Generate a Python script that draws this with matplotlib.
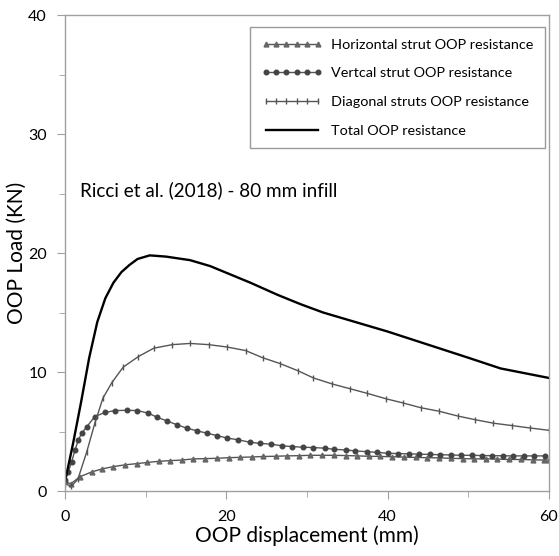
import matplotlib
matplotlib.use("Agg")
import matplotlib.pyplot as plt
from matplotlib.ticker import MultipleLocator

plt.rcParams['font.family'] = ['Lato', 'DejaVu Sans']

# Horizontal strut OOP resistance (triangles)
horiz_x = [0, 0.7, 1.86, 3.3, 4.55, 6.0, 7.45, 8.9, 10.2, 11.7, 13.0, 14.5, 15.9, 17.4, 18.8,
           20.3, 21.7, 23.2, 24.6, 26.1, 27.5, 29.0, 30.4, 31.9, 33.3, 34.8, 36.2, 37.7, 39.1,
           40.6, 42.0, 43.5, 44.9, 46.4, 47.8, 49.3, 50.7, 52.2, 53.6, 55.1, 56.5, 58.0, 59.4, 60]
horiz_y = [0.8, 0.6, 1.2, 1.6, 1.85, 2.05, 2.2, 2.3, 2.4, 2.5, 2.55, 2.6, 2.7, 2.72, 2.75,
           2.8, 2.83, 2.86, 2.9, 2.92, 2.95, 2.97, 3.0, 3.0, 3.0, 2.98, 2.95, 2.92, 2.9,
           2.88, 2.85, 2.82, 2.8, 2.78, 2.75, 2.72, 2.7, 2.7, 2.68, 2.65, 2.65, 2.62, 2.6, 2.6]

# Vertical strut OOP resistance (circles)
vert_x = [0, 0.41, 0.83, 1.24, 1.66, 2.07, 2.7, 3.7, 4.97, 6.2, 7.66, 8.98, 10.35, 11.4, 12.6,
          13.9, 15.1, 16.4, 17.6, 18.8, 20.1, 21.5, 22.9, 24.2, 25.6, 26.9, 28.2, 29.5, 30.8,
          32.2, 33.4, 34.8, 36.0, 37.5, 38.7, 40.0, 41.3, 42.6, 43.9, 45.2, 46.5, 47.8, 49.1,
          50.4, 51.7, 53.0, 54.3, 55.6, 56.9, 58.2, 59.5]
vert_y = [0.93, 1.63, 2.47, 3.45, 4.3, 4.86, 5.4, 6.26, 6.6, 6.76, 6.78, 6.76, 6.54, 6.2, 5.9,
          5.56, 5.28, 5.05, 4.86, 4.66, 4.45, 4.3, 4.1, 4.0, 3.93, 3.8, 3.73, 3.68, 3.65,
          3.6, 3.5, 3.45, 3.37, 3.3, 3.25, 3.17, 3.15, 3.12, 3.1, 3.07, 3.05, 3.03, 3.0,
          3.0, 2.98, 2.97, 2.96, 2.95, 2.95, 2.95, 2.95]

# Diagonal struts OOP resistance
diag_x = [0, 0.8, 1.6, 2.7, 3.7, 4.7, 5.8, 7.2, 9.1, 11.0, 13.3, 15.5, 17.8, 20.1, 22.4, 24.5,
          26.7, 28.9, 30.8, 33.1, 35.3, 37.5, 39.8, 41.9, 44.1, 46.4, 48.7, 50.8, 53.1, 55.4,
          57.6, 60.0]
diag_y = [0.6, 0.4, 1.0, 3.3, 5.7, 7.8, 9.1, 10.4, 11.3, 12.0, 12.3, 12.4, 12.3, 12.1, 11.8, 11.2,
          10.7, 10.1, 9.5, 9.0, 8.6, 8.2, 7.75, 7.4, 7.0, 6.7, 6.3, 6.0, 5.7, 5.5,
          5.3, 5.1]

# Total OOP resistance
total_x = [0, 1, 2, 3, 4, 5, 6, 7, 8, 9, 10.5, 12.5, 15.5, 18, 20.5, 23, 26.3, 29.2, 32, 35,
           40, 45, 50, 54, 57, 60]
total_y = [0.8, 4.0, 7.5, 11.2, 14.2, 16.2, 17.5, 18.4, 19.0, 19.5, 19.8, 19.7, 19.4, 18.9,
           18.2, 17.5, 16.5, 15.7, 15.0, 14.4, 13.4, 12.3, 11.2, 10.3, 9.9, 9.5]

labels = ["Horizontal strut OOP resistance", "Vertcal strut OOP resistance",
          "Diagonal struts OOP resistance", "Total OOP resistance"]

fig = plt.figure(figsize=(5.59, 5.56), dpi=100)
ax = fig.add_axes([0.1163, 0.1169, 0.8657, 0.8561])

grey = '#555555'
ax.plot(horiz_x, horiz_y, color=grey, lw=1.0, marker='^', ms=3.5, mfc='#666666', mec='#666666',
        label=labels[0])
ax.plot(vert_x, vert_y, color=grey, lw=1.0, marker='o', ms=3.3, mfc='#444444', mec='#444444',
        label=labels[1])
ax.plot(diag_x, diag_y, color=grey, lw=1.0, marker='|', ms=5, mew=1.0, mec=grey,
        label=labels[2])
ax.plot(total_x, total_y, color='black', lw=1.7, label=labels[3])

ax.set_xlim(0, 60)
ax.set_ylim(0, 40)
ax.xaxis.set_major_locator(MultipleLocator(20))
ax.xaxis.set_minor_locator(MultipleLocator(10))
ax.yaxis.set_major_locator(MultipleLocator(10))
ax.yaxis.set_minor_locator(MultipleLocator(5))
for s in ax.spines.values():
    s.set_color('#a0a0a0')
    s.set_linewidth(1.0)
ax.tick_params(which='major', length=6, color='#a0a0a0', labelsize=11.5, pad=7)
ax.tick_params(which='minor', length=4, color='#a0a0a0')
ax.tick_params(axis='x', pad=8)

ax.set_xlabel("OOP displacement (mm)", fontsize=15, labelpad=1)
ax.set_ylabel("OOP Load (KN)", fontsize=15, labelpad=1)

ax.text(0.03, 0.632, "Ricci et al. (2018) - 80 mm infill", transform=ax.transAxes,
        fontsize=13.6, ha='left', va='center')

leg = ax.legend(loc='upper right', bbox_to_anchor=(1.006, 0.99), fontsize=10.4,
                numpoints=6, handlelength=4.2, frameon=True, fancybox=False,
                edgecolor='#808080', borderpad=0.8, labelspacing=1.15, handletextpad=0.6)
leg.get_frame().set_linewidth(1.0)

fig.savefig("out.png", dpi=100)
